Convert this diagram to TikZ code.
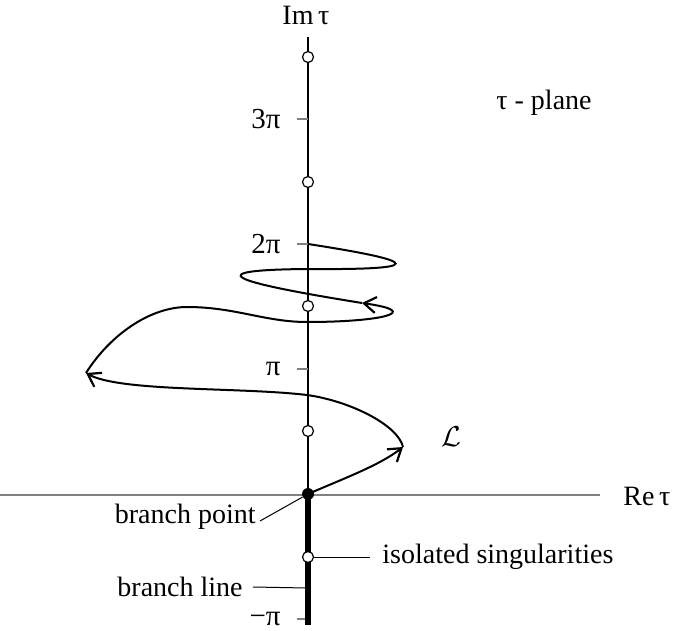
\documentclass[tikz,border=0pt]{standalone}
\usepackage{fontspec}
\setmainfont{Liberation Serif}
\usetikzlibrary{arrows.meta}
\tikzset{
  axisline/.style={line width=0.65pt},
  tickmark/.style={line width=0.65pt, gray},
  ticklabel/.style={anchor=east, inner sep=0pt, font=\fontsize{14.5}{16}\selectfont},
  textlabel/.style={inner sep=0pt, font=\fontsize{14}{16}\selectfont},
  singpoint/.style={circle, draw, fill=white, line width=0.6pt, inner sep=0pt, minimum size=5.5pt},
  branchdot/.style={circle, fill=black, inner sep=0pt, minimum size=6pt},
  branchcut/.style={line width=2.6pt},
  contour/.style={line width=1pt},
  contourarrow/.style={contour, -{Straight Barb[length=6pt,width=8pt,line width=1.1pt]}},
  leader/.style={line width=0.5pt},
}

\begin{document}
\begin{tikzpicture}[x=0.5pt, y=-0.5pt]
  \useasboundingbox (0,0) rectangle (675,631);

  % axes and branch line
  \draw[axisline, gray] (0,495) -- (600,495);
  \draw[axisline] (308,37) -- (308,494);
  \foreach \m/\lab in {3/3π, 2/2π, 1/π, -1/−π} {
    \draw[tickmark] (297,494-125*\m) -- (308,494-125*\m);
    \node[ticklabel] (tick\m) at (281,494-125*\m) {\lab};
  }
  \draw[branchcut] (308,494) -- (308,625);
  \coordinate (cutpt) at (306,588);

  \node[textlabel] (imlabel) at (306,15) {Im\,τ};
  \node[textlabel, anchor=west] (relabel) at (623,496) {Re\,τ};
  \node[textlabel] (plane) at (544,103) {τ - plane};

  % contour L
  \coordinate (c1) at (403,447);
  \coordinate (c2) at (86,373);
  \coordinate (c3) at (362,303);
  \coordinate (c4) at (308,244);
  \draw[contourarrow] (308,494) .. controls (345,478) and (380,465) .. (c1);
  \draw[contourarrow] (c1) .. controls (398,425) and (350,401) .. (307,395)
    .. controls (240,387) and (120,392) .. (c2);
  \draw[contourarrow] (c2) .. controls (110,335) and (150,307) .. (187,307)
    .. controls (235,307) and (265,322) .. (307,322)
    .. controls (380,322) and (425,312) .. (c3);
  \draw[contour] (c3) .. controls (225,281) and (200,270) .. (307,269)
    .. controls (425,270) and (425,262) .. (c4);
  \node[textlabel] (contourname) at (451,437) {$\mathcal{L}$};

  % singularities
  \foreach \yy [count=\i] in {557,431,306,182,57}
    \node[singpoint] (sing\i) at (308,\yy) {};
  \node[branchdot] (bp) at (308,494) {};

  % labels with leaders
  \node[textlabel, anchor=east] (bplabel) at (256,517) {branch point};
  \draw[leader] ([xshift=2pt,yshift=-2pt]bplabel.east) -- (bp);
  \node[textlabel, anchor=west] (singlabel) at (382,557) {isolated singularities};
  \draw[leader] (sing1) -- ([xshift=-6pt]singlabel.west);
  \node[textlabel, anchor=east] (bllabel) at (243,587) {branch line};
  \draw[leader] ([xshift=5pt]bllabel.east) -- (cutpt);
\end{tikzpicture}
\end{document}
